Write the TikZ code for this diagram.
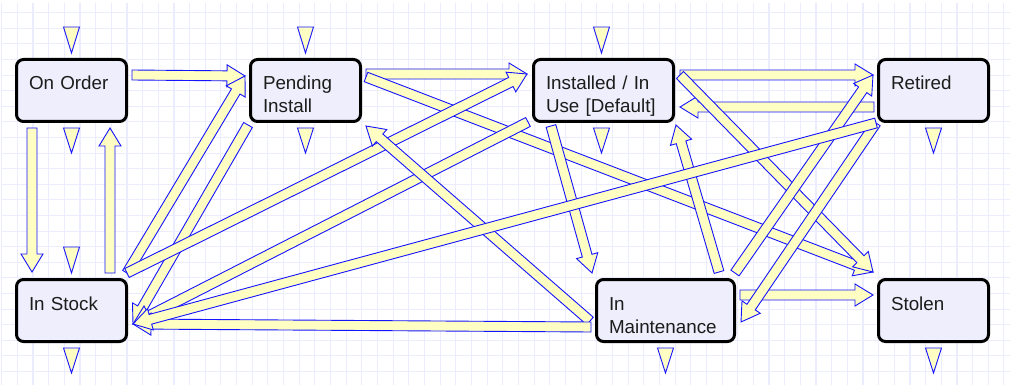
\documentclass[tikz,border=0pt]{standalone}
\usepackage{fontspec}
\setmainfont{Liberation Sans}
\usetikzlibrary{calc}
\definecolor{gridc}{RGB}{236,236,255}
\definecolor{boxfill}{RGB}{238,238,252}
\definecolor{arrfill}{RGB}{255,255,196}
\definecolor{arrline}{RGB}{20,20,255}
\definecolor{txt}{RGB}{28,28,28}
\tikzset{
  gridline/.style={draw=gridc, line width=1.1pt},
  state/.style={draw=black, line width=3pt, rounded corners=7pt, fill=boxfill,
    anchor=north west, outer sep=0pt, inner xsep=12.5pt, inner ysep=0pt,
    text height=30.5pt, text depth=31.5pt, align=left,
    font=\fontsize{18.8}{23}\selectfont, text=txt},
  fatarrow/.style={fill=arrfill, draw=arrline, line width=0.9pt, line join=miter},
  marker/.style={fill=arrfill, draw=arrline, line width=0.9pt},
}
\newcommand\farrow[2]{%
  \coordinate (fan) at ($(#2)!18pt!(#1)$);
  \filldraw[fatarrow] ($(#1)!5pt!90:(#2)$) -- ($(fan)!5pt!90:(#2)$) -- ($(fan)!11pt!90:(#2)$) -- (#2) -- ($(fan)!11pt!-90:(#2)$) -- ($(fan)!5pt!-90:(#2)$) -- ($(#1)!5pt!-90:(#2)$) -- cycle;}
\newcommand\markabove[2]{\filldraw[marker] ([shift={(#2-8,-32.5)}]#1.north) -- ([shift={(#2+8,-32.5)}]#1.north) -- ([shift={(#2,-6.5)}]#1.north) -- cycle;}
\newcommand\markbelow[2]{\filldraw[marker] ([shift={(#2-8,6.5)}]#1.south) -- ([shift={(#2+8,6.5)}]#1.south) -- ([shift={(#2,31.5)}]#1.south) -- cycle;}
\begin{document}
\begin{tikzpicture}[x=1pt,y=-1pt]
\useasboundingbox (0,0) rectangle (1010,385);
\fill[white] (0,0) rectangle (1010,385);
% grid
\foreach \i in {0,...,64} \draw[gridline] ({1.7+15.66*\i},3) -- ({1.7+15.66*\i},385);
\foreach \j in {0,...,23} \draw[gridline] (2,{12.7+15.6*\j}) -- (1010,{12.7+15.6*\j});
% states
\node[state, text width=85pt]  (oo) at (16.5,59.5)  {On Order};
\node[state, text width=85pt]  (pi) at (250.5,59.5) {Pending\\Install};
\node[state, text width=115pt] (iu) at (533.5,59.5) {Installed / In\\Use [Default]};
\node[state, text width=85pt]  (re) at (878.5,59.5) {Retired};
\node[state, text width=85pt]  (is) at (16.5,279.5) {In Stock};
\node[state, text width=113pt] (im) at (596.5,279.5) {In\\Maintenance};
\node[state, text width=85pt]  (st) at (878.5,279.5) {Stolen};
% markers
\markabove{oo}{0} \markbelow{oo}{0}
\markabove{pi}{0} \markbelow{pi}{0}
\markabove{iu}{-2} \markbelow{iu}{-2}
\markbelow{re}{0}
\markabove{is}{0} \markbelow{is}{0}
\markbelow{im}{0}
\markbelow{st}{0}
% ports
\coordinate (oo-e)  at ([shift={(115.5,15.5)}]oo.north west);
\coordinate (oo-s1) at ([shift={(15.5,68.5)}]oo.north west);
\coordinate (oo-s2) at ([shift={(93.5,68.5)}]oo.north west);
\coordinate (pi-w)  at ([shift={(-5.5,16.5)}]pi.north west);
\coordinate (pi-e1) at ([shift={(115.5,14.5)}]pi.north west);
\coordinate (pi-e2) at ([shift={(115.5,17.5)}]pi.north west);
\coordinate (pi-sw) at ([shift={(-2.5,65.5)}]pi.north west);
\coordinate (pi-se) at ([shift={(115.5,66.5)}]pi.north west);
\coordinate (iu-w)  at ([shift={(-6.5,14.5)}]iu.north west);
\coordinate (iu-sw) at ([shift={(-5.5,62.5)}]iu.north west);
\coordinate (iu-e1) at ([shift={(146.5,15.5)}]iu.north west);
\coordinate (iu-e2) at ([shift={(146.5,47.5)}]iu.north west);
\coordinate (iu-s1) at ([shift={(17.5,66.5)}]iu.north west);
\coordinate (iu-s2) at ([shift={(142.5,65.5)}]iu.north west);
\coordinate (re-w1) at ([shift={(-5.5,15.5)}]re.north west);
\coordinate (re-w2) at ([shift={(-4.5,47.5)}]re.north west);
\coordinate (re-sw) at ([shift={(-2.5,63.5)}]re.north west);
\coordinate (is-n1) at ([shift={(15.5,-7.5)}]is.north west);
\coordinate (is-n2) at ([shift={(93.5,-6.5)}]is.north west);
\coordinate (is-ne) at ([shift={(110.5,-6.5)}]is.north west);
\coordinate (is-e)  at ([shift={(116.5,44.5)}]is.north west);
\coordinate (im-n1) at ([shift={(-4.5,-6.5)}]im.north west);
\coordinate (im-n2) at ([shift={(122.5,-7.5)}]im.north west);
\coordinate (im-ne) at ([shift={(138.5,-6.5)}]im.north west);
\coordinate (im-w1) at ([shift={(-6.5,41.5)}]im.north west);
\coordinate (im-w2) at ([shift={(-5.5,47.5)}]im.north west);
\coordinate (im-e1) at ([shift={(143.5,15.5)}]im.north west);
\coordinate (im-e2) at ([shift={(144.5,42.5)}]im.north west);
\coordinate (st-w1) at ([shift={(-5.5,-7.5)}]st.north west);
\coordinate (st-w2) at ([shift={(-5.5,15.5)}]st.north west);
% transitions
\farrow{oo-e}{pi-w}
\farrow{oo-s1}{is-n1}
\farrow{is-n2}{oo-s2}
\farrow{is-ne}{pi-w}
\farrow{pi-sw}{is-e}
\farrow{pi-e1}{iu-w}
\farrow{pi-e2}{st-w1}
\farrow{is-ne}{iu-w}
\farrow{iu-sw}{is-e}
\farrow{iu-e1}{re-w1}
\farrow{re-w2}{iu-e2}
\farrow{iu-e1}{st-w1}
\farrow{iu-s1}{im-n1}
\farrow{im-n2}{iu-s2}
\farrow{im-w1}{pi-se}
\farrow{im-w2}{is-e}
\farrow{im-e1}{st-w2}
\farrow{im-ne}{re-w1}
\farrow{re-sw}{im-e2}
\farrow{re-sw}{is-e}
\end{tikzpicture}
\end{document}
